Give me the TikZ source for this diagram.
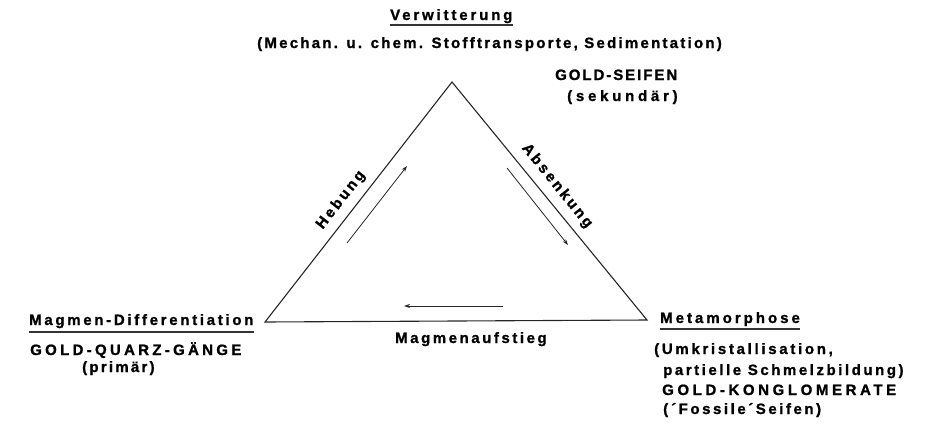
\documentclass[tikz,border=0pt]{standalone}
\usepackage{fontspec}
\setmainfont{Liberation Sans}
\newfontfamily\lblfont{Liberation Sans}[FakeBold=1.2]
\newcommand{\ls}[1]{\addfontfeature{LetterSpace=#1}}
\usetikzlibrary{arrows.meta}
\tikzset{
  lbl/.style={font=\lblfont\bfseries\fontsize{15}{17}\selectfont, inner sep=0pt, text=black},
  edge/.style={line width=1.1pt, black!85, line join=miter},
  flow/.style={line width=0.8pt, black!85, -{Stealth[length=6pt,width=4pt]}},
  uline/.style={line width=1.1pt, black!80}
}
\begin{document}
\begin{tikzpicture}[x=1pt,y=-1pt]
\useasboundingbox (0,0) rectangle (925,434);
% triangle corners
\coordinate (T) at (452,82);
\coordinate (L) at (265,322);
\coordinate (R) at (647,320);
\draw[edge] (T) -- (R) -- (L) -- cycle;
% flow arrows
\coordinate (h1) at (347,243);
\coordinate (h2) at (407,166);
\coordinate (a1) at (507,168);
\coordinate (a2) at (568,245);
\coordinate (m1) at (503,306);
\coordinate (m2) at (404,306);
\draw[flow] (h1) -- (h2);
\draw[flow] (a1) -- (a2);
\draw[flow] (m1) -- (m2);
% edge labels
\node[lbl, rotate=52] (heb) at (341,200) {\ls{18}Hebung};
\node[lbl, rotate=-51] (abs) at (557,186) {\ls{18}Absenkung};
\node[lbl, anchor=base west] (mag) at (395,343) {\ls{17}Magmenaufstieg};
% top
\node[lbl, anchor=base west] (ver) at (390,20) {\ls{19}Verwitterung};
\draw[uline] ([yshift=-5pt]ver.base west) -- ([yshift=-5pt]ver.base east);
\node[lbl, anchor=base west] (mech) at (257,48) {\ls{15}(Mechan. u. chem. Stofftransporte, Sedimentation)};
\node[lbl, anchor=base west] (gs) at (555,80) {\ls{13}GOLD-SEIFEN};
\node[lbl, anchor=base west] (sek) at (567,101) {\ls{25}(sekundär)};
% left
\node[lbl, anchor=base west] (md) at (29,325) {\ls{18}Magmen-Differentiation};
\draw[uline] ([yshift=-7pt]md.base west) -- ([yshift=-7pt]md.base east);
\node[lbl, anchor=base west] (gq) at (30,355) {\ls{22}GOLD-QUARZ-GÄNGE};
\node[lbl, anchor=base west] (pri) at (82,372) {\ls{15}(primär)};
% right
\node[lbl, anchor=base west] (meta) at (660,323) {\ls{20}Metamorphose};
\draw[uline] ([yshift=-6pt]meta.base west) -- ([yshift=-6pt]meta.base east);
\node[lbl, anchor=base west] (umk) at (654,354) {\ls{18}(Umkristallisation,};
\node[lbl, anchor=base west] (par) at (663,375) {\ls{17}partielle Schmelzbildung)};
\node[lbl, anchor=base west] (gk) at (662,395) {\ls{24}GOLD-KONGLOMERATE};
\node[lbl, anchor=base west] (fos) at (663,414) {\ls{17}(\kern3pt´Fossile´Seifen)};
\end{tikzpicture}
\end{document}
